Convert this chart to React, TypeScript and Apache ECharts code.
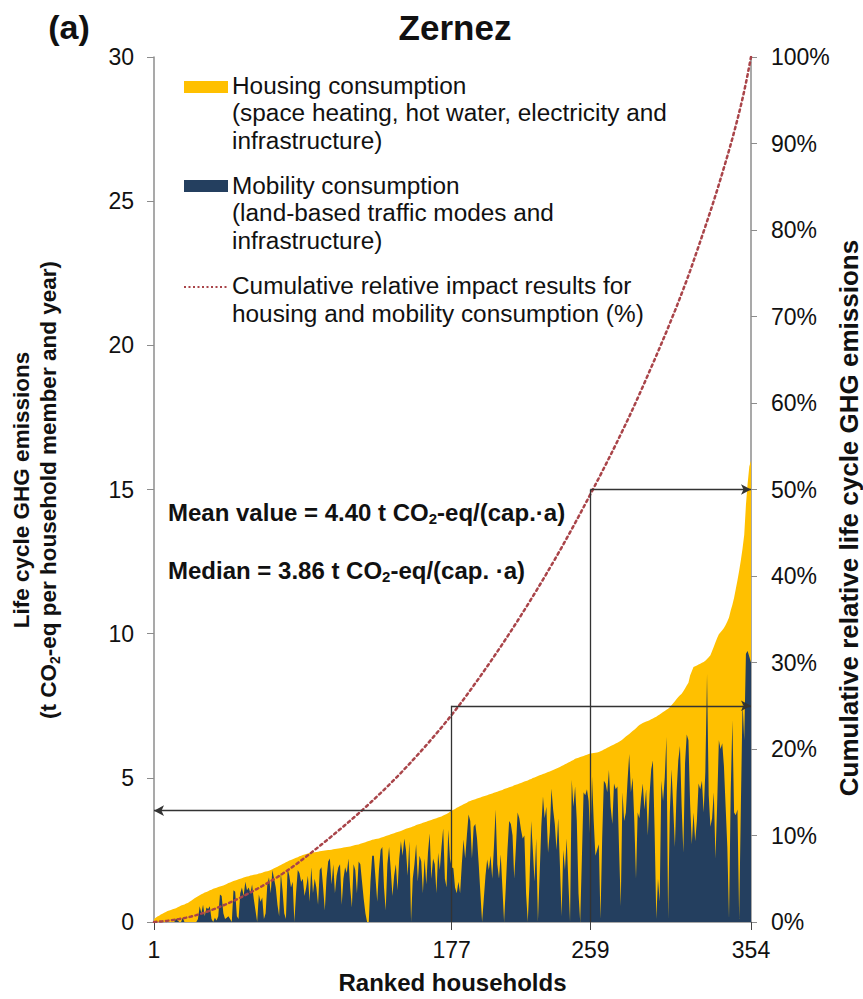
import React, { useEffect, useRef } from "react";
import * as echarts from "echarts";

const households: string[] = Array.from({ length: 354 }, (_, i) => String(i + 1));
const rankTickLabels = ["1", "177", "259", "354"];

// Total life cycle GHG emissions (housing + mobility), t CO2-eq per capita, ranked
const totalEmissions: number[] = [
  0.10, 0.15, 0.19, 0.22, 0.26, 0.29, 0.32, 0.35, 0.38, 0.40,
  0.42, 0.44, 0.46, 0.48, 0.51, 0.54, 0.57, 0.59, 0.61, 0.64,
  0.66, 0.70, 0.74, 0.78, 0.82, 0.86, 0.89, 0.93, 0.96, 0.99,
  1.02, 1.04, 1.07, 1.10, 1.12, 1.15, 1.17, 1.19, 1.21, 1.23,
  1.25, 1.27, 1.29, 1.32, 1.35, 1.37, 1.40, 1.42, 1.44, 1.46,
  1.48, 1.50, 1.52, 1.54, 1.56, 1.58, 1.59, 1.61, 1.62, 1.64,
  1.65, 1.66, 1.68, 1.69, 1.71, 1.73, 1.75, 1.76, 1.78, 1.80,
  1.83, 1.86, 1.89, 1.92, 1.95, 1.98, 2.01, 2.04, 2.07, 2.10,
  2.13, 2.15, 2.18, 2.20, 2.23, 2.25, 2.28, 2.30, 2.32, 2.34,
  2.36, 2.38, 2.39, 2.40, 2.41, 2.42, 2.43, 2.44, 2.45, 2.46,
  2.47, 2.48, 2.49, 2.50, 2.50, 2.51, 2.52, 2.53, 2.54, 2.55,
  2.56, 2.57, 2.58, 2.59, 2.60, 2.61, 2.62, 2.64, 2.65, 2.67,
  2.68, 2.69, 2.71, 2.73, 2.75, 2.77, 2.79, 2.81, 2.83, 2.85,
  2.86, 2.88, 2.89, 2.90, 2.92, 2.94, 2.96, 2.98, 3.00, 3.02,
  3.04, 3.06, 3.08, 3.10, 3.12, 3.14, 3.16, 3.18, 3.21, 3.23,
  3.25, 3.27, 3.29, 3.31, 3.33, 3.36, 3.38, 3.40, 3.42, 3.44,
  3.46, 3.48, 3.50, 3.52, 3.54, 3.56, 3.58, 3.60, 3.62, 3.64,
  3.66, 3.69, 3.72, 3.75, 3.78, 3.82, 3.86, 3.89, 3.92, 3.96,
  3.99, 4.02, 4.05, 4.08, 4.11, 4.14, 4.18, 4.20, 4.22, 4.24,
  4.26, 4.28, 4.30, 4.32, 4.34, 4.36, 4.38, 4.40, 4.42, 4.44,
  4.46, 4.48, 4.50, 4.52, 4.54, 4.56, 4.58, 4.61, 4.63, 4.65,
  4.67, 4.69, 4.71, 4.74, 4.76, 4.78, 4.80, 4.82, 4.85, 4.87,
  4.89, 4.91, 4.94, 4.96, 4.99, 5.01, 5.04, 5.06, 5.09, 5.11,
  5.13, 5.15, 5.18, 5.20, 5.22, 5.25, 5.27, 5.30, 5.32, 5.35,
  5.38, 5.41, 5.44, 5.47, 5.50, 5.53, 5.56, 5.59, 5.62, 5.66,
  5.68, 5.70, 5.72, 5.74, 5.76, 5.78, 5.80, 5.83, 5.84, 5.85,
  5.86, 5.87, 5.88, 5.90, 5.92, 5.95, 5.98, 6.01, 6.04, 6.07,
  6.10, 6.13, 6.16, 6.19, 6.22, 6.25, 6.29, 6.33, 6.38, 6.43,
  6.48, 6.52, 6.57, 6.62, 6.67, 6.72, 6.78, 6.83, 6.87, 6.90,
  6.93, 6.95, 6.97, 7.00, 7.03, 7.06, 7.09, 7.12, 7.16, 7.20,
  7.24, 7.28, 7.32, 7.36, 7.40, 7.45, 7.52, 7.59, 7.66, 7.73,
  7.80, 7.86, 7.92, 8.00, 8.10, 8.20, 8.30, 8.55, 8.70, 8.84,
  8.87, 8.90, 8.93, 8.96, 8.99, 9.02, 9.06, 9.12, 9.18, 9.25,
  9.40, 9.55, 9.70, 9.85, 9.98, 10.05, 10.12, 10.20, 10.30, 10.42,
  10.56, 10.80, 11.00, 11.25, 11.55, 11.85, 12.18, 12.55, 12.95, 13.43,
  14.46, 15.20, 15.80, 16.00,
];

// Mobility share of emissions per household (t CO2-eq per capita)
const mobilityEmissions: number[] = [
  0, 0, 0, 0, 0, 0, 0, 0, 0, 0,
  0, 0, 0, 0.12, 0.05, 0, 0, 0.15, 0, 0,
  0, 0, 0, 0, 0, 0, 0.1, 0.55, 0.3, 0.6,
  0.2, 0.5, 0.45, 0.55, 0.1, 0, 0.15, 0.05, 0.2, 0.95,
  0.9, 0.3, 0.1, 0.15, 0.2, 0.1, 0, 1.1, 1.05, 0.2,
  0.1, 1.0, 1.2, 0.9, 1.4, 1.1, 1.2, 1.0, 1.3, 0.8,
  0.4, 0.0, 0.95, 0.7, 0.85, 0.1, 0.3, 1.3, 1.55, 1.0,
  1.8, 1.5, 1.2, 0.6, 0.2, 1.7, 1.1, 0.3, 0.1, 1.85,
  1.6, 1.2, 1.4, 0.0, 1.0, 1.8, 1.7, 1.4, 1.5, 0.9,
  1.2, 1.6, 0.7, 1.9, 1.0, 1.5, 1.2, 0.6, 1.8, 1.9,
  1.2, 0.4, 1.5, 2.1, 2.2, 1.3, 2.0, 1.0, 1.6, 1.9,
  2.0, 0.6, 1.5, 1.9, 1.7, 2.2, 1.2, 0.5, 2.0, 1.8,
  1.0, 2.1, 2.0, 1.4, 0.8, 0.3, 0.0, 0.0, 1.4, 2.3,
  2.3, 1.5, 0.7, 1.8, 2.5, 2.6, 1.2, 0.4, 2.0, 2.6,
  1.8, 0.9, 1.6, 2.0, 1.1, 2.2, 2.8, 2.3, 2.9, 2.5,
  1.6, 2.8, 0.0, 1.5, 2.0, 2.7, 1.4, 2.3, 2.1, 1.0,
  2.2, 1.3, 2.4, 3.07, 1.5, 2.2, 2.0, 1.0, 2.4, 1.8,
  2.6, 3.25, 1.5, 1.2, 3.2, 2.2, 1.9, 1.86, 1.2, 1.0,
  1.4, 1.0, 2.0, 2.86, 2.2, 3.0, 3.73, 3.5, 2.2, 3.3,
  3.4, 2.9, 2.0, 1.0, 0.0, 0.8, 1.6, 2.17, 1.8, 2.3,
  1.5, 2.6, 3.9, 2.0, 1.5, 2.35, 1.2, 0.0, 1.2, 2.5,
  3.5, 3.4, 3.0, 1.5, 2.6, 3.8, 3.6, 3.2, 2.9, 3.0,
  1.0, 0.0, 1.3, 3.5, 2.5, 1.4, 2.9, 0.0, 1.6, 3.3,
  4.35, 3.6, 4.0, 2.4, 3.1, 4.63, 3.9, 3.4, 2.5, 3.6,
  2.0, 0.2, 2.5, 1.8, 2.9, 1.4, 0.0, 4.93, 4.0, 4.7,
  3.5, 1.0, 0.0, 2.2, 4.5, 4.4, 4.6, 4.2, 2.8, 5.04,
  3.5, 2.3, 2.5, 2.7, 0.1, 2.9, 4.9, 4.8, 4.5, 5.27,
  4.0, 3.4, 4.8, 4.6, 4.7, 2.5, 0.55, 4.5, 3.5, 3.8,
  4.9, 5.83, 4.5, 5.0, 3.5, 1.5, 3.8, 3.6, 4.3, 4.8,
  3.9, 4.6, 3.0, 4.4, 5.3, 5.6, 3.2, 0.1, 1.5, 0.7,
  4.9, 4.2, 5.0, 6.42, 0.1, 3.8, 5.3, 4.0, 2.6, 4.5,
  5.6, 6.1, 4.0, 2.4, 5.5, 6.5, 6.3, 4.1, 2.7, 3.8,
  2.8, 3.5, 4.8, 4.6, 4.9, 3.8, 5.2, 8.6, 4.4, 3.3,
  3.6, 4.5, 2.2, 4.1, 6.3, 6.0, 6.2, 5.4, 4.0, 2.6,
  0.1, 4.5, 7.0, 3.8, 3.7, 3.9, 0.1, 4.0, 7.6, 6.3,
  9.3, 9.4, 9.2, 9.0,
];

const meanValue = 4.4;
const medianValue = 3.86;
const medianRank = "177";
const halfRank = "259";
const lastRank = "354";
const firstRank = "1";
const quarterLevel = 7.5; // 25 % on the right axis
const halfLevel = 15; // 50 % on the right axis

const FONT = "'Liberation Sans', Arial, Helvetica, sans-serif";
const YELLOW = "#FFC000";
const NAVY = "#243F5F";
const DOT = "#A94449";
const AXIS = "#8C8C8C";
const INK = "#111";

export default function App() {
  const ref = useRef<HTMLDivElement>(null);

  useEffect(() => {
    document.body.style.margin = "0";
    if (!ref.current) return;
    const chart = echarts.init(ref.current, undefined, { renderer: "svg" });

    const sum = totalEmissions.reduce((a, b) => a + b, 0);
    let run = 0;
    const cumulative = totalEmissions.map((v) => {
      run += v;
      return (run / sum) * 100;
    });

    const tickIdx = rankTickLabels.map((l) => households.indexOf(l));

    const legendText = (x: number, y: number, text: string) => ({
      type: "text",
      x,
      y,
      scaleX: 1.06,
      style: {
        text,
        fontSize: 23,
        fontFamily: FONT,
        fill: INK,
        align: "left",
        verticalAlign: "middle",
      },
    });

    const richBold = (size: number, sub: number) => ({
      b: { fontSize: size, fontWeight: "bold", fontFamily: FONT, fill: INK, lineHeight: size + 4 },
      s: {
        fontSize: sub,
        fontWeight: "bold",
        fontFamily: FONT,
        fill: INK,
        lineHeight: sub,
        verticalAlign: "bottom",
      },
    });

    const option: any = {
      animation: false,
      backgroundColor: "#fff",
      grid: { left: 154, right: 112, top: 57, bottom: 73 },
      xAxis: {
        type: "category",
        data: households,
        boundaryGap: false,
        axisLine: { lineStyle: { color: AXIS, width: 1.5 } },
        axisTick: {
          show: true,
          length: 8,
          interval: (i: number) => tickIdx.includes(i),
          lineStyle: { color: "#444" },
        },
        axisLabel: {
          interval: (i: number) => tickIdx.includes(i),
          fontSize: 23,
          fontFamily: FONT,
          color: INK,
          margin: 16,
        },
        name: "Ranked households",
        nameLocation: "middle",
        nameGap: 48,
        nameTextStyle: { fontSize: 24, fontWeight: "bold", fontFamily: FONT, color: INK },
        splitLine: { show: false },
      },
      yAxis: [
        {
          type: "value",
          min: 0,
          max: 30,
          interval: 5,
          axisLine: { show: true, lineStyle: { color: AXIS, width: 1.5 } },
          axisTick: { show: true, length: 7, lineStyle: { color: AXIS } },
          axisLabel: { fontSize: 23, fontFamily: FONT, color: INK, margin: 20 },
          splitLine: { show: false },
        },
        {
          type: "value",
          min: 0,
          max: 100,
          interval: 10,
          position: "right",
          axisLine: { show: true, lineStyle: { color: AXIS, width: 1.5 } },
          axisTick: { show: true, length: 6, lineStyle: { color: AXIS } },
          axisLabel: {
            fontSize: 23,
            fontFamily: FONT,
            color: INK,
            margin: 20,
            formatter: "{value}%",
          },
          splitLine: { show: false },
        },
      ],
      series: [
        {
          name: "Housing consumption",
          type: "line",
          data: totalEmissions,
          symbol: "none",
          lineStyle: { width: 0 },
          areaStyle: { color: YELLOW, opacity: 1 },
          itemStyle: { color: YELLOW },
          z: 1,
        },
        {
          name: "Mobility consumption",
          type: "line",
          data: mobilityEmissions,
          symbol: "none",
          lineStyle: { width: 0 },
          areaStyle: { color: NAVY, opacity: 1 },
          itemStyle: { color: NAVY },
          z: 2,
          markLine: {
            silent: true,
            symbol: ["none", "arrow"],
            symbolSize: [8, 10],
            label: { show: false },
            lineStyle: { color: "#333", width: 1.3, type: "solid" },
            emphasis: { disabled: true },
            data: [
              [
                { coord: [medianRank, 0], symbol: "none" },
                { coord: [medianRank, quarterLevel], symbol: "none" },
              ],
              [{ coord: [medianRank, quarterLevel] }, { coord: [lastRank, quarterLevel] }],
              [{ coord: [medianRank, medianValue] }, { coord: [firstRank, medianValue] }],
              [
                { coord: [halfRank, 0], symbol: "none" },
                { coord: [halfRank, halfLevel], symbol: "none" },
              ],
              [{ coord: [halfRank, halfLevel] }, { coord: [lastRank, halfLevel] }],
            ],
          },
        },
        {
          name: "Cumulative relative impact results",
          type: "line",
          yAxisIndex: 1,
          data: cumulative,
          symbol: "none",
          lineStyle: { color: DOT, width: 2.5, type: [2.5, 3.5], cap: "round" },
          z: 3,
        },
      ],
      graphic: [
        {
          type: "text",
          x: 69,
          y: 27,
          style: {
            text: "(a)",
            fontSize: 34,
            fontWeight: "bold",
            fontFamily: FONT,
            fill: INK,
            align: "center",
            verticalAlign: "middle",
          },
        },
        {
          type: "text",
          x: 455,
          y: 27,
          style: {
            text: "Zernez",
            fontSize: 35,
            fontWeight: "bold",
            fontFamily: FONT,
            fill: INK,
            align: "center",
            verticalAlign: "middle",
          },
        },
        // legend
        { type: "rect", shape: { x: 184, y: 81, width: 44, height: 12 }, style: { fill: YELLOW } },
        legendText(232, 86, "Housing consumption"),
        legendText(232, 113.5, "(space heating, hot water, electricity and"),
        legendText(232, 141, "infrastructure)"),
        { type: "rect", shape: { x: 184, y: 180, width: 44, height: 12 }, style: { fill: NAVY } },
        legendText(232, 186, "Mobility consumption"),
        legendText(232, 213.5, "(land-based traffic modes and"),
        legendText(232, 241, "infrastructure)"),
        {
          type: "line",
          shape: { x1: 184, y1: 287, x2: 227, y2: 287 },
          style: { stroke: DOT, lineWidth: 2, lineDash: [2, 2.5] },
        },
        legendText(232, 286, "Cumulative relative impact results for"),
        legendText(232, 314, "housing and mobility consumption (%)"),
        // mean / median annotations
        {
          type: "text",
          x: 168,
          y: 512,
          style: {
            text: `{b|Mean value = ${meanValue.toFixed(2)} t CO}{s|2}{b|-eq/(cap.·a)}`,
            rich: richBold(24, 15),
            align: "left",
            verticalAlign: "middle",
          },
        },
        {
          type: "text",
          x: 168,
          y: 570,
          style: {
            text: `{b|Median = ${medianValue.toFixed(2)} t CO}{s|2}{b|-eq/(cap. ·a)}`,
            rich: richBold(24, 15),
            align: "left",
            verticalAlign: "middle",
          },
        },
        // left axis title
        {
          type: "text",
          x: 35,
          y: 490,
          rotation: Math.PI / 2,
          style: {
            text:
              "{b|Life cycle GHG emissions}\n{b|(t CO}{s|2}{b|-eq per household member and year)}",
            rich: richBold(22.5, 14),
            align: "center",
            verticalAlign: "middle",
          },
        },
        // right axis title
        {
          type: "text",
          x: 849,
          y: 518,
          rotation: Math.PI / 2,
          style: {
            text: "Cumulative relative life cycle GHG emissions",
            fontSize: 26,
            fontWeight: "bold",
            fontFamily: FONT,
            fill: INK,
            align: "center",
            verticalAlign: "middle",
          },
        },
      ],
    };

    chart.setOption(option);
    return () => chart.dispose();
  }, []);

  return <div ref={ref} style={{ width: 863, height: 999 }} />;
}
